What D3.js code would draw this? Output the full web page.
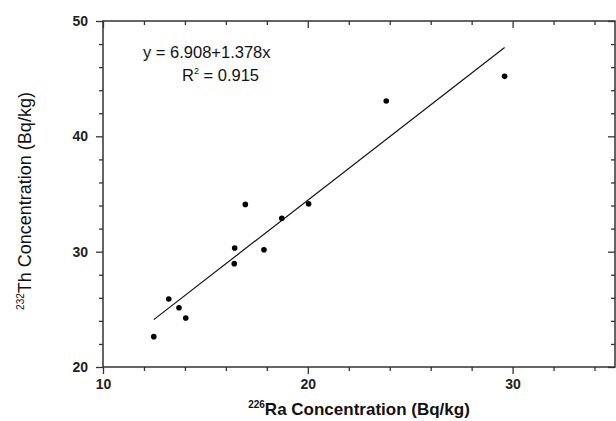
<!DOCTYPE html>
<html>
<head>
<meta charset="utf-8">
<script src="https://cdn.jsdelivr.net/npm/d3@7"></script>
<style>
  body { margin: 0; background: #fff; }
  svg text { font-family: "Liberation Sans", Arial, sans-serif; }
</style>
</head>
<body>
<div id="chart"></div>
<script>
// data
var raValues = [12.48, 13.21, 13.71, 14.04, 16.43, 16.41, 16.95, 17.86, 18.73, 20.04, 23.83, 29.61];
var thValues = [22.63, 25.9, 25.14, 24.25, 30.32, 28.96, 34.1, 30.17, 32.9, 34.14, 43.07, 45.2];
var fitIntercept = 6.908, fitSlope = 1.378;
var xTicks = [10, 20, 30];
var yTicks = [20, 30, 40, 50];

var width = 616, height = 421;
var pad = {top: 21, right: 1, bottom: 54, left: 103};

var svg = d3.select("#chart").append("svg")
    .attr("width", width)
    .attr("height", height);

var x = d3.scaleLinear().domain([10, 35]).range([pad.left, width - pad.right]);
var y = d3.scaleLinear().domain([20, 50]).range([height - pad.bottom, pad.top]);

var axisColor = "#333";

// minor ticks every 2 units
var xMinor = d3.range(12, 35, 2).filter(function(v) { return v % 10 != 0; });
var yMinor = d3.range(22, 50, 2).filter(function(v) { return v % 10 != 0; });

function styleAxis(g) {
    g.select(".domain").remove();
    g.selectAll("line").attr("stroke", axisColor).attr("stroke-width", 1.3);
    g.selectAll("text")
        .style("font-size", "14px")
        .style("font-weight", "bold")
        .attr("fill", "#222");
}

// bottom axis (outward)
svg.append("g")
    .attr("transform", "translate(0," + y(20) + ")")
    .call(d3.axisBottom(x).tickValues(xTicks).tickSize(7).tickPadding(5))
    .call(styleAxis);
svg.append("g")
    .attr("transform", "translate(0," + y(20) + ")")
    .call(d3.axisBottom(x).tickValues(xMinor).tickSize(4).tickFormat(""))
    .call(styleAxis);

// left axis (outward)
svg.append("g")
    .attr("transform", "translate(" + x(10) + ",0)")
    .call(d3.axisLeft(y).tickValues(yTicks).tickSize(7).tickPadding(8))
    .call(styleAxis);
svg.append("g")
    .attr("transform", "translate(" + x(10) + ",0)")
    .call(d3.axisLeft(y).tickValues(yMinor).tickSize(4).tickFormat(""))
    .call(styleAxis);

// top axis (inward)
svg.append("g")
    .attr("transform", "translate(0," + y(50) + ")")
    .call(d3.axisTop(x).tickValues(xTicks).tickSize(-7).tickFormat(""))
    .call(styleAxis);
svg.append("g")
    .attr("transform", "translate(0," + y(50) + ")")
    .call(d3.axisTop(x).tickValues(xMinor).tickSize(-4).tickFormat(""))
    .call(styleAxis);

// right axis (inward)
svg.append("g")
    .attr("transform", "translate(" + x(35) + ",0)")
    .call(d3.axisRight(y).tickValues(yTicks).tickSize(-7).tickFormat(""))
    .call(styleAxis);
svg.append("g")
    .attr("transform", "translate(" + x(35) + ",0)")
    .call(d3.axisRight(y).tickValues(yMinor).tickSize(-4).tickFormat(""))
    .call(styleAxis);

// frame
svg.append("rect")
    .attr("x", x(10))
    .attr("y", y(50))
    .attr("width", x(35) - x(10))
    .attr("height", y(20) - y(50))
    .attr("fill", "none")
    .attr("stroke", axisColor)
    .attr("stroke-width", 1.5);

// fit line across data range
var xMin = d3.min(raValues), xMax = d3.max(raValues);
svg.append("line")
    .attr("x1", x(xMin))
    .attr("y1", y(fitIntercept + fitSlope * xMin))
    .attr("x2", x(xMax))
    .attr("y2", y(fitIntercept + fitSlope * xMax))
    .attr("stroke", "#111")
    .attr("stroke-width", 1.2);

// points
svg.append("g").selectAll("circle")
    .data(raValues)
    .enter().append("circle")
    .attr("cx", function(d) { return x(d); })
    .attr("cy", function(d, i) { return y(thValues[i]); })
    .attr("r", 2.8)
    .attr("fill", "#000");

// equation text
svg.append("text")
    .attr("x", 143)
    .attr("y", 58)
    .style("font-size", "16.5px")
    .attr("fill", "#111")
    .text("y = " + fitIntercept.toFixed(3) + "+" + fitSlope.toFixed(3) + "x");

var r2 = svg.append("text")
    .attr("x", 182)
    .attr("y", 81)
    .style("font-size", "16.5px")
    .attr("fill", "#111");
r2.append("tspan").text("R");
r2.append("tspan").attr("dy", -7).style("font-size", "9px").text("2");
r2.append("tspan").attr("dy", 7).text(" = 0.915");

// x axis title
var xt = svg.append("text")
    .attr("x", 359)
    .attr("y", 415)
    .attr("text-anchor", "middle")
    .style("font-size", "17px")
    .style("font-weight", "bold")
    .attr("fill", "#111");
xt.append("tspan").attr("dy", -7).style("font-size", "10px").text("226");
xt.append("tspan").attr("dy", 7).text("Ra Concentration (Bq/kg)");

// y axis title
var yt = svg.append("text")
    .attr("transform", "translate(31," + 201 + ") rotate(-90)")
    .attr("text-anchor", "middle")
    .style("font-size", "18px")
    .attr("fill", "#111");
yt.append("tspan").attr("dy", -7).style("font-size", "10px").text("232");
yt.append("tspan").attr("dy", 7).text("Th Concentration (Bq/kg)");
</script>
</body>
</html>
